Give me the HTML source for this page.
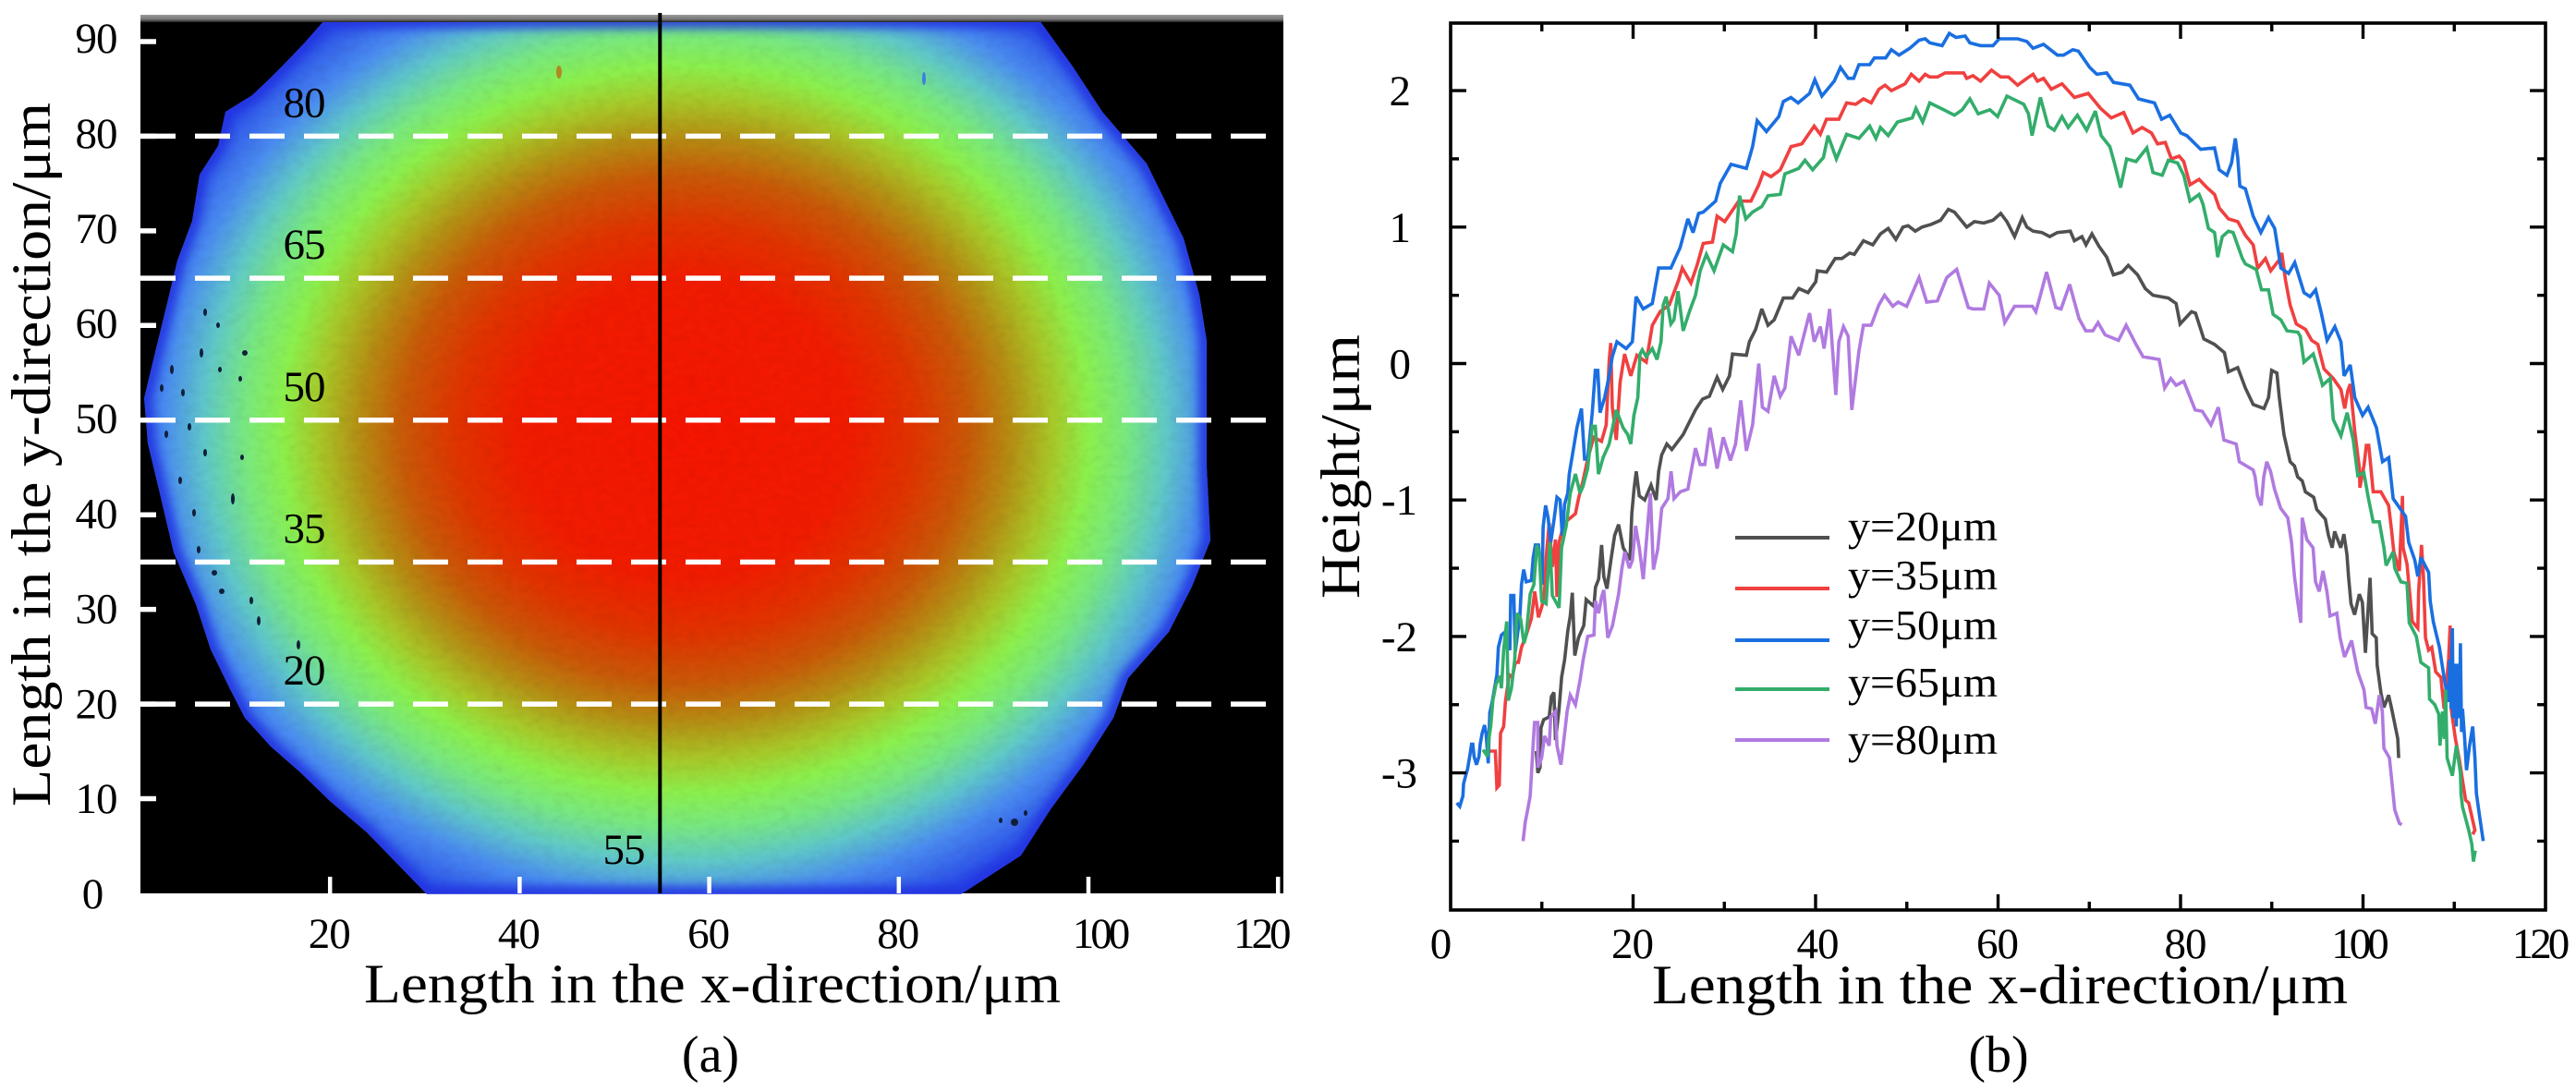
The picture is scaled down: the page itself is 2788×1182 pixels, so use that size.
<!DOCTYPE html>
<html lang="en">
<head>
<meta charset="utf-8">
<title>Height profiles of a circular surface feature</title>
<style>
html,body{margin:0;padding:0;background:#fff;}
svg{display:block;}
text{font-family:"Liberation Serif",serif;fill:#000;}
</style>
</head>
<body>
<svg id="fig" xmlns="http://www.w3.org/2000/svg" width="2788" height="1182" viewBox="0 0 2788 1182">
<defs>
<radialGradient id="heat" gradientUnits="userSpaceOnUse" cx="0" cy="0" r="1" gradientTransform="translate(742 465) scale(620 557)">
<stop offset="0" stop-color="#f51500"/>
<stop offset=".29" stop-color="#f01c00"/>
<stop offset=".40" stop-color="#e03400"/>
<stop offset=".495" stop-color="#c85a08"/>
<stop offset=".57" stop-color="#b58f14"/>
<stop offset=".64" stop-color="#a8c828"/>
<stop offset=".705" stop-color="#8cf04c"/>
<stop offset=".77" stop-color="#78e880"/>
<stop offset=".84" stop-color="#60c8c8"/>
<stop offset=".91" stop-color="#4a8cf0"/>
<stop offset="1" stop-color="#2a4ce8"/>
</radialGradient>
<linearGradient id="topBand" x1="0" y1="0" x2="0" y2="1">
<stop offset="0" stop-color="#9a9a9a"/>
<stop offset=".6" stop-color="#777"/>
<stop offset="1" stop-color="#222"/>
</linearGradient>
<filter id="grain" x="0" y="0" width="100%" height="100%">
<feTurbulence type="fractalNoise" baseFrequency="0.09 0.14" numOctaves="2" seed="4"/>
<feColorMatrix type="matrix" values="0 0 0 0 0  0 0 0 0 0  0 0 0 0 0  1.2 0 0 0 -0.45"/>
</filter>
<filter id="edgeBlur" x="-5%" y="-5%" width="110%" height="110%"><feGaussianBlur stdDeviation="5"/></filter>
<clipPath id="blobClip"><path d="M351 22L329 47L305 72L293 84L273 103L244 121L236 158L216 189L208 239L192 282L180 332L168 381L156 431L160 480L172 530L188 598L212 654L228 703L249 746L265 777L293 808L325 836L357 867L397 901L462 968L1040 968L1105 926L1137 876L1173 827L1205 777L1221 734L1265 684L1290 635L1310 585L1306 505L1306 443L1306 369L1298 319L1281 258L1241 177L1193 121L1161 72L1125 22Z"/></clipPath>
<clipPath id="plotA"><rect x="152" y="16" width="1237" height="951"/></clipPath>
</defs>

<g id="panelA">
<rect x="152" y="16" width="1237" height="951" fill="#000"/>
<g clip-path="url(#blobClip)">
<rect x="152" y="16" width="1237" height="951" fill="url(#heat)"/>
<rect x="152" y="16" width="1237" height="951" filter="url(#grain)" opacity=".07"/>
<path d="M351 22L329 47L305 72L293 84L273 103L244 121L236 158L216 189L208 239L192 282L180 332L168 381L156 431L160 480L172 530L188 598L212 654L228 703L249 746L265 777L293 808L325 836L357 867L397 901L462 968L1040 968L1105 926L1137 876L1173 827L1205 777L1221 734L1265 684L1290 635L1310 585L1306 505L1306 443L1306 369L1298 319L1281 258L1241 177L1193 121L1161 72L1125 22Z" fill="none" stroke="#2233e0" stroke-width="18" opacity=".85" filter="url(#edgeBlur)"/>
<g fill="#10203a">
<ellipse cx="222" cy="338" rx="2" ry="4"/><ellipse cx="236" cy="352" rx="2" ry="3"/><ellipse cx="265" cy="382" rx="3" ry="3"/><ellipse cx="218" cy="382" rx="2" ry="5"/><ellipse cx="186" cy="400" rx="2" ry="5"/><ellipse cx="198" cy="425" rx="2" ry="4"/><ellipse cx="238" cy="400" rx="2" ry="3"/><ellipse cx="260" cy="410" rx="2" ry="3"/><ellipse cx="205" cy="462" rx="2" ry="4"/><ellipse cx="222" cy="490" rx="2" ry="4"/><ellipse cx="252" cy="540" rx="2" ry="6"/><ellipse cx="262" cy="495" rx="2" ry="3"/><ellipse cx="210" cy="555" rx="2" ry="4"/><ellipse cx="232" cy="620" rx="3" ry="3"/><ellipse cx="240" cy="640" rx="3" ry="3"/><ellipse cx="272" cy="650" rx="2" ry="4"/><ellipse cx="280" cy="672" rx="2" ry="5"/><ellipse cx="323" cy="698" rx="2" ry="5"/><ellipse cx="175" cy="420" rx="2" ry="4"/><ellipse cx="180" cy="470" rx="2" ry="4"/><ellipse cx="195" cy="520" rx="2" ry="4"/><ellipse cx="215" cy="595" rx="2" ry="4"/><ellipse cx="1098" cy="890" rx="4" ry="4"/><ellipse cx="1083" cy="888" rx="2" ry="3"/><ellipse cx="1110" cy="880" rx="2" ry="3"/><ellipse cx="1000" cy="85" rx="2" ry="7" fill="#3d7fe0"/><ellipse cx="605" cy="78" rx="3" ry="7" fill="#b08a20"/>
</g>
</g>
<rect x="152" y="16" width="1237" height="8" fill="url(#topBand)"/>
<g id="ticksA" clip-path="url(#plotA)"></g>
<g id="linesA"></g>
<g id="labelsA"></g>
<text x="394" y="1085" font-size="60" textLength="754" lengthAdjust="spacingAndGlyphs">Length in the x-direction/μm</text>
<text transform="translate(54 873) rotate(-90)" font-size="60" textLength="762" lengthAdjust="spacingAndGlyphs">Length in the y-direction/μm</text>
<text x="769" y="1160" font-size="56" text-anchor="middle">(a)</text>
</g>

<g id="panelB">
<g id="seriesB"></g>
<rect x="1570" y="25" width="1185" height="960" fill="none" stroke="#000" stroke-width="3.6"/>
<g id="ticksB"></g>
<g id="labelsB"></g>
<text x="1788" y="1086" font-size="60" textLength="753" lengthAdjust="spacingAndGlyphs">Length in the x-direction/μm</text>
<text transform="translate(1471 648) rotate(-90)" font-size="60" textLength="286" lengthAdjust="spacingAndGlyphs">Height/μm</text>
<text x="2163" y="1160" font-size="56" text-anchor="middle">(b)</text>
<g>
<g><line x1="1878" x2="1980" y1="582" y2="582" stroke="#505050" stroke-width="4"/><text x="2000" y="585" font-size="46" textLength="162" lengthAdjust="spacingAndGlyphs">y=20μm</text></g>
<g><line x1="1878" x2="1980" y1="637" y2="637" stroke="#f04040" stroke-width="4"/><text x="2000" y="638" font-size="46" textLength="162" lengthAdjust="spacingAndGlyphs">y=35μm</text></g>
<g><line x1="1878" x2="1980" y1="693" y2="693" stroke="#1a6fe0" stroke-width="4"/><text x="2000" y="692" font-size="46" textLength="162" lengthAdjust="spacingAndGlyphs">y=50μm</text></g>
<g><line x1="1878" x2="1980" y1="746" y2="746" stroke="#33ad6b" stroke-width="4"/><text x="2000" y="754" font-size="46" textLength="162" lengthAdjust="spacingAndGlyphs">y=65μm</text></g>
<g><line x1="1878" x2="1980" y1="801" y2="801" stroke="#b07ae0" stroke-width="4"/><text x="2000" y="816" font-size="46" textLength="162" lengthAdjust="spacingAndGlyphs">y=80μm</text></g>
</g>
</g>
</svg>

<script>
// Panel (a) values
const profileRows = [20, 35, 50, 65, 80];
const profileColumn = 55;
const xTicksA = [20, 40, 60, 80, 100, 120];
const yTicksA = [0, 10, 20, 30, 40, 50, 60, 70, 80, 90];

// Panel (b) values
const xMajorB = [0, 20, 40, 60, 80, 100, 120];
const xMinorB = [10, 30, 50, 70, 90, 110];
const yMajorB = [2, 1, 0, -1, -2, -3];
const yMinorB = [1.5, 0.5, -0.5, -1.5, -2.5, -3.5];

const x20 = [9.39,9.56,9.8,9.9,10.2,10.81,11.05,11.32,11.49,11.89,12.16,12.5,12.84,13.11,13.34,13.61,14.02,14.59,14.86,15.71,15.88,16.22,16.55,16.79,17.13,17.57,17.97,18.41,18.92,19.66,19.86,20.1,20.34,20.68,21.28,21.96,22.53,22.8,23.13,23.7,24.24,25.49,25.93,26.84,27.62,28.36,29.21,29.82,30.56,30.9,32.42,32.75,33.43,34.11,34.78,35.46,36.47,37.48,38.16,39.17,40.02,40.19,41.2,42.15,42.89,43.73,44.24,45.25,46.27,47.11,47.96,48.8,49.58,50.15,50.93,51.67,52.69,53.7,54.55,55.22,56.57,57.41,58.43,59.44,60.29,60.97,61.81,62.65,63.16,63.84,64.81,65.66,66.5,67.92,68.36,69.2,69.64,70.29,71.06,71.91,72.65,73.6,74.27,75.29,76.13,76.98,78.66,79.51,79.95,81.2,81.64,82.55,83.73,84.81,85.25,86.27,87.11,87.96,89.14,89.64,89.98,90.56,90.83,91.33,92.01,92.49,92.83,93.34,93.68,94.59,94.93,95.87,96.21,96.62,96.89,97.56,97.9,98.24,98.41,98.68,99.08,99.59,99.93,100.26,100.77,101.0,101.45,101.55,101.95,102.29,102.8,103.14,103.47,103.81,103.91];
const h20 = [-2.84,-3.0,-2.96,-2.67,-2.61,-2.59,-2.44,-2.41,-2.76,-2.53,-2.30,-2.17,-1.96,-1.85,-1.68,-2.14,-2.01,-1.92,-1.73,-1.78,-1.64,-1.58,-1.33,-1.56,-1.65,-1.44,-1.26,-1.18,-1.35,-1.44,-1.10,-.92,-.79,-.97,-1.0,-.89,-1.0,-.79,-.67,-.59,-.63,-.52,-.46,-.34,-.26,-.24,-.10,-.19,-.09,.07,.06,.16,.25,.40,.28,.32,.48,.48,.55,.52,.60,.68,.67,.77,.77,.81,.80,.90,.87,.95,.99,.91,1.0,1.01,.97,1.0,1.02,1.05,1.13,1.11,1.0,1.04,1.03,1.05,1.10,1.04,.93,1.07,1.0,.97,.96,.93,.96,.97,.90,.93,.87,.95,.86,.78,.65,.67,.72,.65,.55,.50,.48,.44,.29,.38,.37,.18,.14,.08,-.06,-.03,-.18,-.30,-.33,-.25,-.05,-.07,-.25,-.52,-.72,-.75,-.83,-.86,-.94,-.98,-1.07,-1.14,-1.26,-1.35,-1.23,-1.35,-1.25,-1.40,-1.56,-1.76,-1.84,-1.69,-1.75,-2.12,-1.57,-1.98,-2.01,-2.21,-2.41,-2.52,-2.43,-2.53,-2.64,-2.75,-2.89];

const x35 = [4.32,4.9,5.07,5.34,5.47,5.81,6.01,6.42,6.76,7.09,7.43,7.77,8.28,8.85,9.22,9.63,10.0,10.3,10.47,10.81,11.15,11.49,11.66,11.89,12.43,13.34,13.68,14.02,14.51,15.02,15.69,16.54,17.05,17.38,17.55,17.72,18.16,18.57,19.07,19.75,20.42,21.44,22.11,22.96,23.97,24.98,25.39,26.34,27.01,27.69,28.7,29.21,30.05,31.57,32.92,33.77,34.27,35.12,36.13,37.32,38.5,39.85,40.52,41.2,42.55,43.4,44.41,45.25,46.1,46.94,47.62,48.3,49.81,50.49,51.34,52.01,52.52,53.36,54.21,56.23,56.57,57.25,58.09,59.28,60.29,61.13,62.15,63.16,63.84,64.31,64.98,65.83,67.01,68.36,69.88,71.23,72.41,73.77,74.78,75.79,76.81,77.48,78.33,79.0,79.85,80.35,81.03,82.04,82.89,83.73,84.24,85.25,86.27,87.11,87.96,88.46,89.31,89.88,90.83,91.1,91.5,92.01,92.69,93.7,94.37,95.05,95.73,96.74,97.58,97.99,98.33,98.6,98.87,99.1,99.61,99.66,100.12,100.36,100.63,101.11,101.95,102.8,103.14,103.37,103.98,104.32,104.39,104.82,105.4,106.0,106.1,106.41,106.62,106.85,107.19,107.53,107.97,108.54,108.88,109.38,109.55,109.66,110.13,110.57,111.24,111.58,112.26,112.02];
const h35 = [-2.84,-2.84,-3.11,-3.09,-2.71,-2.66,-2.48,-2.28,-2.30,-2.19,-2.19,-2.08,-1.99,-1.87,-1.67,-1.86,-1.78,-1.67,-1.42,-1.17,-1.49,-1.29,-1.71,-1.31,-1.17,-1.12,-1.10,-.99,-.86,-.70,-.54,-.57,-.45,.02,.15,-.32,-.56,-.14,.07,-.09,.06,.01,.28,.38,.43,.61,.70,.59,.72,.88,.89,1.08,1.04,1.19,1.19,1.31,1.40,1.37,1.42,1.59,1.61,1.74,1.68,1.79,1.79,1.91,1.90,1.94,1.91,2.01,2.04,2.0,2.05,2.12,2.07,2.12,2.10,2.10,2.13,2.13,2.09,2.11,2.07,2.15,2.10,2.10,2.04,2.09,2.12,2.07,2.09,2.01,2.05,1.95,1.98,1.87,1.80,1.84,1.69,1.73,1.69,1.61,1.62,1.50,1.52,1.48,1.31,1.35,1.29,1.24,1.14,1.06,1.04,.94,.87,.70,.77,.68,.76,.81,.61,.43,.29,.25,.17,.14,-.04,-.11,-.19,-.33,-.20,-.15,-.34,-.50,-.77,-.91,-.74,-.60,-.60,-.94,-.94,-1.04,-1.23,-1.38,-1.52,-.97,-1.35,-1.47,-1.89,-1.94,-1.67,-1.33,-1.56,-2.01,-2.10,-2.08,-2.26,-2.30,-2.53,-2.17,-1.92,-2.53,-2.75,-2.91,-3.20,-3.22,-3.42,-3.45];

const x50 = [.68,1.0,1.35,1.42,1.69,1.86,2.09,2.30,2.43,2.57,2.84,3.11,3.24,3.45,3.72,3.89,4.12,4.29,4.56,5.07,5.24,5.57,5.91,6.49,6.59,6.93,7.09,7.60,7.77,8.01,8.28,8.85,9.05,9.29,9.63,10.03,10.14,10.41,10.68,10.98,11.32,11.66,12.0,12.23,12.5,12.84,13.0,13.5,13.84,14.34,14.68,15.02,15.52,15.86,16.13,16.37,16.88,17.38,17.72,18.23,19.24,19.92,20.32,21.1,22.11,22.79,24.14,25.15,26.0,26.57,27.18,27.69,29.04,29.55,30.73,32.42,33.09,33.6,34.61,35.97,36.47,37.3,38.09,39.34,39.92,40.69,42.05,42.72,43.57,44.17,44.75,45.93,46.44,47.69,48.3,49.14,50.32,51.34,52.01,52.52,53.87,54.65,55.39,56.4,56.91,58.09,59.44,60.12,62.15,63.16,63.84,64.98,66.5,67.18,68.19,68.8,70.05,70.83,71.91,72.65,74.44,75.39,77.14,77.92,78.83,80.02,80.69,82.21,83.73,84.24,85.08,85.59,86.0,86.27,86.5,87.11,87.96,88.8,89.64,90.32,91.0,91.84,92.52,93.53,94.2,94.81,95.39,96.06,96.91,97.58,97.92,98.6,99.1,99.95,100.56,101.47,102.14,102.82,103.3,104.66,105.0,105.67,106.0,106.34,107.19,107.36,107.7,108.37,108.88,109.38,109.5,109.66,109.72,109.79,109.88,109.99,110.1,110.23,110.32,110.47,110.58,110.67,110.79,110.91,111.14,111.34,111.68,112.02,112.26,112.43,112.76,113.17];
const h50 = [-3.22,-3.245,-3.17,-3.08,-3.01,-2.97,-2.88,-2.79,-2.79,-2.88,-2.94,-2.88,-2.79,-2.71,-2.65,-2.71,-2.93,-2.56,-2.48,-2.28,-2.08,-1.99,-1.97,-2.10,-1.70,-1.70,-2.11,-1.85,-1.62,-1.51,-1.60,-1.59,-1.42,-1.33,-1.33,-1.62,-1.20,-1.04,-1.13,-1.31,-1.15,-.98,-1.0,-1.26,-1.03,-.95,-.81,-.61,-.47,-.33,-.70,-.70,-.36,-.05,-.05,-.36,-.25,-.09,.05,.16,.11,.16,.49,.40,.44,.70,.70,.85,1.06,.96,1.10,1.11,1.19,1.32,1.46,1.43,1.59,1.78,1.70,1.81,1.92,1.95,1.91,1.98,2.08,1.96,2.07,2.17,2.09,2.09,2.19,2.19,2.24,2.24,2.30,2.26,2.31,2.37,2.38,2.35,2.33,2.42,2.39,2.40,2.35,2.33,2.33,2.38,2.38,2.36,2.31,2.34,2.26,2.26,2.30,2.29,2.17,2.12,2.13,2.06,2.04,1.94,1.91,1.79,1.82,1.69,1.67,1.57,1.58,1.42,1.38,1.47,1.65,1.51,1.30,1.28,1.08,.96,1.07,.99,.70,.66,.74,.52,.49,.54,.38,.17,.27,.16,-.09,-.01,-.25,-.38,-.32,-.47,-.72,-.69,-.99,-1.12,-1.31,-1.44,-1.56,-1.42,-1.53,-1.74,-1.89,-2.08,-2.30,-2.48,-2.17,-2.53,-2.1,-1.94,-2.6,-2.53,-2.2,-2.66,-2.2,-2.30,-2.6,-2.05,-2.7,-2.53,-2.75,-2.98,-2.80,-2.66,-2.89,-3.15,-3.31,-3.50];

const x65 = [3.55,4.05,4.16,4.39,4.63,4.97,5.41,5.57,5.81,6.15,6.32,6.66,7.03,7.26,7.67,8.04,8.28,8.72,9.12,9.46,9.73,9.97,10.47,10.88,11.15,11.89,12.16,12.67,13.11,13.68,14.19,14.51,15.02,15.52,15.86,16.2,16.71,17.38,18.16,18.9,19.41,19.75,20.09,20.52,20.76,21.0,21.44,22.11,22.62,23.06,23.3,23.63,24.14,24.48,24.92,25.49,26.17,26.84,27.35,28.03,28.87,29.88,30.9,31.3,31.67,32.35,33.09,34.11,34.78,36.13,36.64,38.16,38.84,39.68,40.86,41.37,42.28,43.4,44.75,45.93,46.61,47.11,47.96,48.97,50.59,51.0,51.74,52.52,54.04,55.22,56.07,56.91,57.82,59.11,59.95,60.97,62.82,63.33,63.73,64.64,65.49,66.16,67.01,67.69,68.7,69.71,70.66,71.3,72.25,72.75,73.43,74.1,75.12,76.3,76.98,77.99,78.66,79.68,80.35,81.03,82.04,82.45,83.06,83.73,84.07,84.58,85.25,85.76,86.77,87.11,88.29,88.87,89.64,90.15,91.0,91.67,92.85,93.12,93.53,94.54,95.05,95.56,96.4,96.74,97.58,98.26,98.93,99.42,100.09,100.6,101.11,101.78,102.29,102.53,103.3,103.47,104.15,104.82,105.06,105.84,106.34,107.19,107.29,107.87,108.3,108.44,108.71,108.91,109.05,109.22,109.79,110.23,110.67,110.74,110.91,111.58,111.92,112.1,112.3];
const h65 = [-2.83,-2.88,-2.76,-2.66,-2.47,-2.35,-2.29,-2.38,-2.10,-1.89,-2.47,-2.38,-2.17,-1.83,-1.87,-2.05,-1.99,-1.69,-1.62,-1.33,-1.40,-1.74,-1.76,-1.31,-1.70,-1.79,-1.35,-1.19,-.95,-.81,-.95,-.90,-.77,-.46,-.46,-.81,-.69,-.59,-.34,-.47,-.52,-.59,-.38,-.25,.07,.10,.05,.11,.03,.16,.43,.49,.29,.32,.53,.24,.38,.50,.68,.80,.68,.87,.82,.95,1.23,1.06,1.11,1.15,1.23,1.24,1.39,1.43,1.49,1.42,1.51,1.67,1.50,1.68,1.65,1.74,1.65,1.73,1.67,1.77,1.80,1.87,1.77,1.91,1.86,1.82,1.86,1.94,1.83,1.86,1.81,1.96,1.90,1.83,1.67,1.95,1.74,1.71,1.81,1.73,1.82,1.71,1.85,1.67,1.59,1.47,1.29,1.5,1.48,1.58,1.40,1.38,1.49,1.47,1.38,1.19,1.24,1.17,.99,.96,.78,.93,.97,.96,.77,.73,.69,.54,.54,.36,.32,.24,.23,.20,.01,.07,-.04,-.16,-.11,-.41,-.53,-.36,-.56,-.82,-.80,-.99,-1.16,-1.16,-1.35,-1.48,-1.38,-1.50,-1.60,-1.61,-1.90,-2.0,-2.19,-2.23,-2.46,-2.50,-2.57,-2.8,-2.55,-2.75,-2.39,-2.89,-3.02,-2.80,-3.0,-3.16,-3.25,-3.42,-3.52,-3.65,-3.57];

const x80 = [7.94,8.18,8.45,8.72,8.85,9.05,9.19,9.56,9.56,9.97,10.3,10.81,10.98,11.49,11.66,12.09,12.5,12.77,13.11,13.68,14.19,14.53,15.03,15.71,15.88,16.22,16.55,16.79,17.23,17.74,18.41,18.75,19.09,19.59,19.93,20.27,20.68,21.11,21.62,21.89,22.23,22.7,23.14,23.82,24.16,24.49,25.17,26.01,26.17,26.84,27.35,27.86,28.43,29.21,29.88,30.66,31.23,31.81,32.42,33.09,33.77,34.17,34.78,35.46,36.13,36.64,37.32,38.16,39.34,39.85,40.52,40.93,41.54,42.22,42.55,43.06,43.57,43.97,44.75,45.25,46.1,46.94,47.55,48.46,49.04,49.98,51.34,52.18,53.36,54.38,55.46,56.74,57.25,58.43,59.04,60.12,60.73,61.81,63.77,64.14,64.64,65.32,66.33,66.91,67.85,68.87,69.61,70.39,70.96,71.74,73.19,74.04,75.12,75.89,77.65,78.26,78.93,79.51,80.35,81.6,82.38,83.33,84.14,84.75,86.1,86.44,87.96,88.17,88.44,88.84,89.12,89.45,89.86,90.3,90.97,91.75,92.16,92.49,92.83,93.17,93.34,93.84,94.52,94.79,95.2,95.6,96.04,96.38,97.12,97.49,97.97,98.74,99.42,100.1,100.33,100.94,101.35,101.78,102.12,102.29,102.9,103.14,103.47,103.98,104.25];
const h80 = [-3.50,-3.36,-3.27,-3.17,-3.02,-2.78,-2.63,-2.63,-2.96,-2.89,-2.73,-2.80,-2.59,-2.55,-2.80,-2.94,-2.71,-2.55,-2.43,-2.50,-2.32,-2.17,-2.0,-1.99,-1.74,-1.83,-1.71,-1.66,-2.01,-1.92,-1.69,-1.51,-1.38,-1.50,-1.44,-1.19,-1.35,-1.58,-1.17,-.95,-1.51,-1.36,-1.06,-.99,-.79,-.99,-.94,-.92,-.86,-.62,-.74,-.74,-.47,-.77,-.54,-.71,-.59,-.27,-.64,-.45,0,-.32,-.35,-.09,-.24,-.18,.20,.06,.37,.16,.27,.11,.40,-.23,.16,.27,.20,-.34,.09,.28,.28,.43,.50,.42,.45,.42,.63,.45,.46,.63,.69,.41,.40,.40,.59,.50,.30,.42,.42,.38,.50,.67,.41,.40,.58,.33,.24,.24,.30,.21,.17,.28,.14,.05,.03,-.18,-.11,-.16,-.13,-.34,-.35,-.45,-.32,-.56,-.59,-.72,-.78,-.83,-.97,-1.04,-.83,-.72,-.79,-.92,-1.06,-1.13,-1.31,-1.56,-1.74,-1.90,-1.13,-1.29,-1.35,-1.60,-1.67,-1.52,-1.67,-1.85,-1.83,-2.01,-2.15,-2.03,-2.26,-2.39,-2.52,-2.53,-2.64,-2.43,-2.55,-2.82,-2.89,-3.05,-3.27,-3.37,-3.38];

const SVGNS = 'http://www.w3.org/2000/svg';
const xA = v => 152 + 10.26 * v;
const yA = v => 967 - 10.245 * v;
const xB = v => 1570 + 9.875 * v;
const yB = v => 393.5 - 147.7 * v;

function mk(tag, parent, attrs) {
  const el = document.createElementNS(SVGNS, tag);
  for (const k in attrs) el.setAttribute(k, attrs[k]);
  parent.appendChild(el);
  return el;
}

// Panel (a) ticks
const ticksA = document.getElementById('ticksA');
xTicksA.forEach(v => {
  const t = mk('line', ticksA, {x1: xA(v), x2: xA(v), y1: 967, y2: 949, stroke: '#fff', 'stroke-width': 4.5});
  
  
});
yTicksA.filter(v => v > 0).forEach(v => {
  const t = mk('line', ticksA, {x1: 152, x2: 169, y1: yA(v), y2: yA(v), stroke: '#fff', 'stroke-width': 5.5});
  
  
});

// Panel (a) profile lines
const linesA = document.getElementById('linesA');
profileRows.forEach(v => {
  const l = mk('line', linesA, {x1: 152, x2: 1372, y1: yA(v), y2: yA(v), stroke: '#fff', 'stroke-width': 5.5, 'stroke-dasharray': '38 21'});
  
  
  const t = mk('text', linesA, {x: 329, y: yA(v) - 21, 'font-size': 47, 'text-anchor': 'middle', 'letter-spacing': '-1'});
  
  
  t.textContent = v;
});
const col = mk('line', linesA, {x1: xA(profileColumn) - 2, x2: xA(profileColumn) - 2, y1: 14, y2: 967, stroke: '#000', 'stroke-width': 4});


const colLabel = mk('text', linesA, {x: 675, y: 935, 'font-size': 47, 'text-anchor': 'middle', 'letter-spacing': '-1'});


colLabel.textContent = profileColumn;

// Panel (a) tick labels
const labelsA = document.getElementById('labelsA');
xTicksA.forEach(v => {
  const shift = v === 100 ? 12 : v === 120 ? -19 : -1;
  const t = mk('text', labelsA, {x: xA(v) + shift, y: 1026, 'font-size': 47, 'text-anchor': 'middle'});
  t.setAttribute('letter-spacing', v >= 100 ? '-4' : '-1');
  
  
  t.textContent = v;
});
yTicksA.forEach(v => {
  const t = mk('text', labelsA, {x: v === 0 ? 100 : 104, y: yA(v) + 12 + (90 - v) * 0.045, 'font-size': 47, 'text-anchor': 'middle', 'letter-spacing': '-1'});
  
  
  t.textContent = v;
});

// Panel (b) series
const seriesB = document.getElementById('seriesB');
function drawSeries(name, color, xs, hs) {
  const pts = xs.map((x, i) => xB(x).toFixed(1) + ',' + yB(hs[i]).toFixed(1)).join(' ');
  const p = mk('polyline', seriesB, {points: pts, fill: 'none', stroke: color, 'stroke-width': 3.6, 'stroke-linejoin': 'miter', 'stroke-miterlimit': 3});
  
  
}
drawSeries('series-y20', '#505050', x20, h20);
drawSeries('series-y35', '#f04040', x35, h35);
drawSeries('series-y50', '#1a6fe0', x50, h50);
drawSeries('series-y65', '#33ad6b', x65, h65);
drawSeries('series-y80', '#b07ae0', x80, h80);

// Panel (b) ticks on all four sides
const ticksB = document.getElementById('ticksB');
function tickX(v, len) {
  [[985, 985 - len], [25, 25 + len]].forEach(pair => {
    const t = mk('line', ticksB, {x1: xB(v), x2: xB(v), y1: pair[0], y2: pair[1], stroke: '#000', 'stroke-width': 3.4});
    
    
  });
}
function tickY(v, len) {
  [[1570, 1570 + len], [2755, 2755 - len]].forEach(pair => {
    const t = mk('line', ticksB, {x1: pair[0], x2: pair[1], y1: yB(v), y2: yB(v), stroke: '#000', 'stroke-width': 3.4});
    
    
  });
}
xMajorB.filter(v => v > 0 && v < 120).forEach(v => tickX(v, 17));
xMinorB.forEach(v => tickX(v, 9));
yMajorB.forEach(v => tickY(v, 17));
yMinorB.forEach(v => tickY(v, 9));

// Panel (b) tick labels
const labelsB = document.getElementById('labelsB');
xMajorB.forEach(v => {
  const shift = v === 0 ? -11 : v === 100 ? -5 : v === 120 ? -7 : v === 80 ? 5 : v === 40 ? 2 : -1;
  const t = mk('text', labelsB, {x: xB(v) + shift, y: 1037, 'font-size': 47, 'text-anchor': 'middle'});
  t.setAttribute('letter-spacing', v >= 100 ? '-4' : '-1');
  
  
  t.textContent = v;
});
yMajorB.forEach(v => {
  const t = mk('text', labelsB, {x: v < 0 ? 1534 : 1527, y: yB(v) + 16, 'font-size': 47, 'text-anchor': 'end'});
  
  
  t.textContent = v;
});
</script>
</body>
</html>
